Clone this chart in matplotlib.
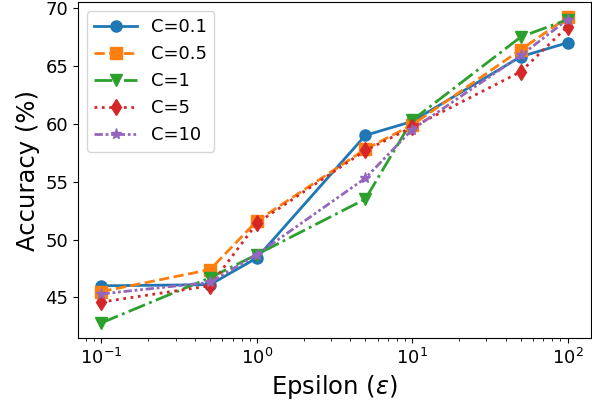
import numpy as np
import matplotlib.pyplot as plt

epsilon = [0.1, 0.5, 1, 5, 10, 50, 100]
labels = ["C=0.1", "C=0.5", "C=1", "C=5", "C=10"]
acc_c01 = [46.0, 46.1, 48.4, 59.0, 60.2, 65.8, 67.0]
acc_c05 = [45.5, 47.4, 51.6, 57.8, 59.9, 66.4, 69.2]
acc_c1 = [42.8, 46.7, 48.7, 53.5, 60.3, 67.5, 69.0]
acc_c5 = [44.6, 46.0, 51.4, 57.7, 59.7, 64.5, 68.4]
acc_c10 = [45.3, 46.3, 48.7, 55.3, 59.5, 65.9, 69.0]

series = [acc_c01, acc_c05, acc_c1, acc_c5, acc_c10]
styles = ['-', '--', '-.', ':', (0, (3, 1, 1, 1, 1, 1))]
markers = ['o', 's', 'v', 'd', '*']

fig, ax = plt.subplots(figsize=(5.92, 4.03), dpi=100)
for vals, lab, ls, mk in zip(series, labels, styles, markers):
    ax.plot(epsilon, vals, linestyle=ls, marker=mk, label=lab, linewidth=2, markersize=8)

ax.set_xscale('log')
ax.set_xlabel(r'Epsilon ($\varepsilon$)', fontsize=17.5)
ax.set_ylabel('Accuracy (%)', fontsize=17.5)
ax.tick_params(labelsize=13)
ax.legend(fontsize=13, loc='upper left', handlelength=2.35)
plt.subplots_adjust(left=0.132, right=0.998, top=0.995, bottom=0.161)
plt.savefig('out.png')
